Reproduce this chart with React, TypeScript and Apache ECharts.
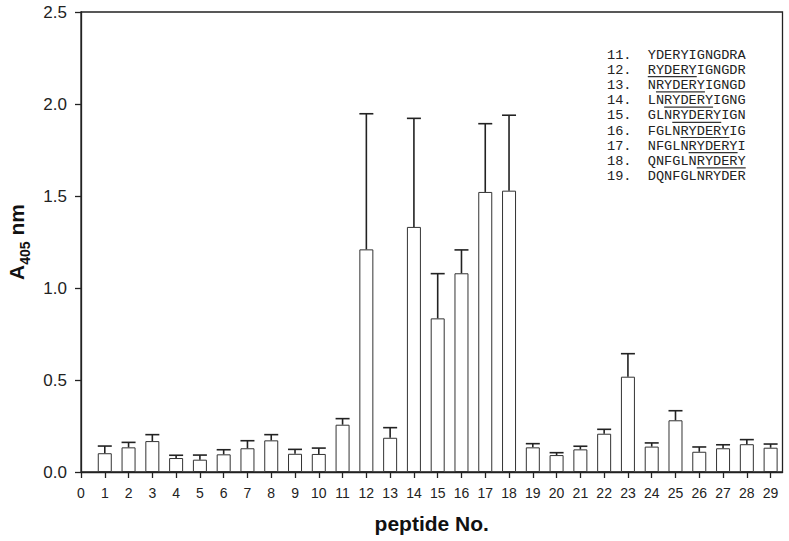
import React, { useEffect, useRef } from "react";
import * as echarts from "echarts";

const peptideNo: number[] = [1, 2, 3, 4, 5, 6, 7, 8, 9, 10, 11, 12, 13, 14, 15, 16, 17, 18, 19, 20, 21, 22, 23, 24, 25, 26, 27, 28, 29];
const meanA405: number[] = [0.102, 0.134, 0.168, 0.076, 0.067, 0.096, 0.129, 0.172, 0.099, 0.098, 0.257, 1.21, 0.186, 1.332, 0.835, 1.08, 1.522, 1.529, 0.134, 0.092, 0.123, 0.208, 0.518, 0.138, 0.281, 0.11, 0.129, 0.151, 0.132];
const sdA405: number[] = [0.039, 0.027, 0.035, 0.015, 0.025, 0.025, 0.041, 0.031, 0.024, 0.032, 0.033, 0.737, 0.055, 0.59, 0.243, 0.127, 0.371, 0.41, 0.02, 0.013, 0.017, 0.024, 0.125, 0.02, 0.052, 0.026, 0.019, 0.025, 0.02];
const xTicks: number[] = [0, 1, 2, 3, 4, 5, 6, 7, 8, 9, 10, 11, 12, 13, 14, 15, 16, 17, 18, 19, 20, 21, 22, 23, 24, 25, 26, 27, 28, 29];
const legendIds: string[] = ["11.", "12.", "13.", "14.", "15.", "16.", "17.", "18.", "19."];
const legendSeqs: string[] = [
  "YDERYIGNGDRA",
  "RYDERYIGNGDR",
  "NRYDERYIGNGD",
  "LNRYDERYIGNG",
  "GLNRYDERYIGN",
  "FGLNRYDERYIG",
  "NFGLNRYDERYI",
  "QNFGLNRYDERY",
  "DQNFGLNRYDER",
];
const underlined: boolean[] = [false, true, true, true, true, true, true, true, false];
const motif = "RYDERY";

export default function App() {
  const ref = useRef<HTMLDivElement>(null);
  useEffect(() => {
    const el = ref.current;
    if (!el) return;
    const chart = echarts.init(el, null, { renderer: "svg" });

    const legendX = 607;
    const legendY0 = 55;
    const rowH = 15.2;
    const monoSize = 13.6;
    const charW = monoSize * 0.6;
    const graphics: any[] = [];
    legendIds.forEach((id, i) => {
      const y = legendY0 + i * rowH;
      graphics.push({
        type: "text",
        x: legendX,
        y,
        style: {
          text: id + "  " + legendSeqs[i],
          font: `${monoSize}px "Liberation Mono", monospace`,
          fill: "#222",
          verticalAlign: "middle",
          align: "left",
        },
      });
      const idx = legendSeqs[i].indexOf(motif);
      if (idx >= 0 && underlined[i]) {
        const x1 = legendX + (id.length + 2 + idx) * charW;
        graphics.push({
          type: "line",
          shape: { x1, y1: y + 6.5, x2: x1 + motif.length * charW, y2: y + 6.5 },
          style: { stroke: "#333", lineWidth: 1.2 },
        });
      }
    });

    const barData = peptideNo.map((p, i) => [p, meanA405[i]]);
    const errData = peptideNo.map((p, i) => [p, meanA405[i], sdA405[i]]);

    chart.setOption({
      animation: false,
      backgroundColor: "#fff",
      grid: {
        left: 81,
        right: 6.5,
        top: 12,
        bottom: 69,
        show: true,
        borderColor: "#222",
        borderWidth: 1.3,
        backgroundColor: "transparent",
        containLabel: false,
        outerBoundsMode: "none",
      },
      xAxis: {
        type: "value",
        min: 0,
        max: 29.5,
        interval: 1,
        name: "peptide No.",
        nameLocation: "middle",
        nameGap: 41,
        nameTextStyle: { fontFamily: "Liberation Sans", fontWeight: "bold", fontSize: 21, color: "#111" },
        axisLine: { show: true, onZero: false, lineStyle: { color: "#222", width: 1.3 } },
        axisTick: { show: true, inside: false, length: 6, customValues: xTicks, lineStyle: { color: "#222", width: 1.3 } },
        axisLabel: {
          show: true,
          customValues: xTicks,
          margin: 14,
          fontFamily: "Liberation Sans",
          fontSize: 14,
          color: "#222",
          formatter: (v: number) => String(v),
        },
        splitLine: { show: false },
      },
      yAxis: {
        type: "value",
        min: 0,
        max: 2.5,
        interval: 0.5,
        name: "{a|A}{s|405}{a| nm}",
        nameLocation: "middle",
        nameGap: 48,
        nameRotate: 90,
        nameTextStyle: {
          rich: {
            a: { fontFamily: "Liberation Sans", fontWeight: "bold", fontSize: 21, color: "#111", padding: [0, 0, 5, 0] },
            s: { fontFamily: "Liberation Sans", fontWeight: "bold", fontSize: 14, color: "#111", verticalAlign: "bottom" },
          },
        },
        axisLine: { show: true, lineStyle: { color: "#222", width: 1.3 } },
        axisTick: { show: true, inside: false, length: 6, lineStyle: { color: "#222", width: 1.3 } },
        axisLabel: {
          margin: 14,
          fontFamily: "Liberation Sans",
          fontSize: 17,
          color: "#222",
          formatter: (v: number) => v.toFixed(1),
        },
        splitLine: { show: false },
      },
      series: [
        {
          type: "bar",
          data: barData,
          barWidth: 14,
          itemStyle: { color: "#fff", borderColor: "#333", borderWidth: 1 },
          z: 2,
        },
        {
          type: "custom",
          data: errData,
          encode: { x: 0, y: 1 },
          z: 3,
          renderItem: (params: any, api: any) => {
            const x = api.value(0);
            const m = api.value(1);
            const e = api.value(2);
            const base = api.coord([x, m]);
            const top = api.coord([x, m + e]);
            return {
              type: "group",
              children: [
                { type: "line", shape: { x1: base[0], y1: base[1], x2: top[0], y2: top[1] }, style: { stroke: "#222", lineWidth: 1.6 } },
                { type: "line", shape: { x1: top[0] - 7, y1: top[1], x2: top[0] + 7, y2: top[1] }, style: { stroke: "#222", lineWidth: 1.6 } },
              ],
            };
          },
        },
      ],
      graphic: graphics,
    });

    return () => {
      chart.dispose();
    };
  }, []);
  return (
    <div
      ref={ref}
      style={{ position: "fixed", left: 0, top: 0, width: 789, height: 541, background: "#fff" }}
    />
  );
}
